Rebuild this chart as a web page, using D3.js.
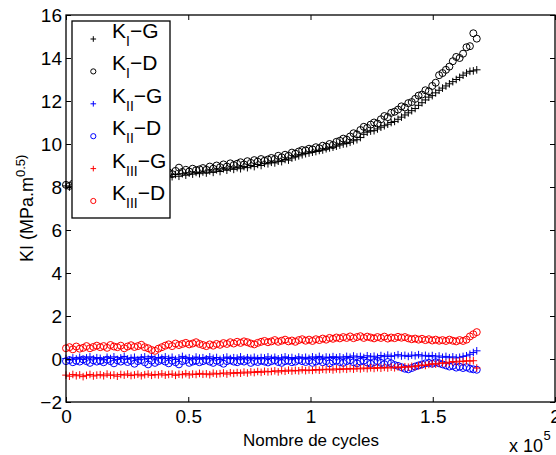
<!DOCTYPE html>
<html><head><meta charset="utf-8">
<script src="https://cdn.jsdelivr.net/npm/d3@7"></script>
<style>html,body{margin:0;padding:0;background:#fff;}svg{display:block;}text{font-family:"Liberation Sans",Arial,Helvetica,sans-serif;}</style>
</head><body>
<svg id="chart" width="556" height="455"></svg>
<script>
const cycles = [0,1400,2800,4200,5600,7000,8400,9800,11200,12600,
14000,15400,16800,18200,19600,21000,22400,23800,25200,26600,
28000,29400,30800,32200,33600,35000,36400,37800,39200,40600,
42000,43400,44800,46200,47600,49000,50400,51800,53200,54600,
56000,57400,58800,60200,61600,63000,64400,65800,67200,68600,
70000,71400,72800,74200,75600,77000,78400,79800,81200,82600,
84000,85400,86800,88200,89600,91000,92400,93800,95200,96600,
98000,99400,100800,102200,103600,105000,106400,107800,109200,110600,
112000,113400,114800,116200,117600,119000,120400,121800,123200,124600,
126000,127400,128800,130200,131600,133000,134400,135800,137200,138600,
140000,141400,142800,144200,145600,147000,148400,149800,151200,152600,
154000,155400,156800,158200,159600,161000,162400,163800,165200,166600,
168000];

const KI_G = [8.05,8.00,8.10,8.02,8.12,8.08,8.15,8.10,8.18,8.12,
8.20,8.15,8.22,8.18,8.28,8.22,8.30,8.25,8.35,8.28,
8.35,8.30,8.40,8.32,8.45,8.38,8.48,8.42,8.50,8.45,
8.52,8.48,8.58,8.50,8.62,8.55,8.65,8.60,8.68,8.62,
8.70,8.65,8.75,8.68,8.80,8.72,8.85,8.78,8.88,8.82,
8.90,8.85,8.95,8.90,9.00,8.95,9.05,9.00,9.10,9.08,
9.15,9.12,9.20,9.18,9.28,9.25,9.35,9.40,9.45,9.50,
9.55,9.58,9.62,9.65,9.70,9.72,9.78,9.82,9.85,9.90,
9.95,10.00,10.02,10.08,10.15,10.20,10.30,10.45,10.55,10.60,
10.62,10.70,10.78,10.85,10.92,11.00,11.05,11.15,11.25,11.35,
11.45,11.55,11.65,11.80,11.92,12.05,12.18,12.25,12.38,12.50,
12.60,12.70,12.80,12.90,13.00,13.10,13.20,13.30,13.38,13.40,
13.45];

const KI_D = [8.10,8.05,8.15,8.12,8.20,8.15,8.25,8.18,8.28,8.22,
8.30,8.25,8.35,8.28,8.40,8.32,8.45,8.38,8.42,8.50,
8.45,8.55,8.40,8.60,8.52,8.65,8.48,8.70,8.58,8.62,
8.68,8.60,8.75,8.90,8.70,8.80,8.72,8.85,8.78,8.82,
8.88,8.80,8.95,8.85,9.00,8.92,9.05,8.95,9.10,9.02,
9.08,9.15,9.05,9.20,9.12,9.25,9.18,9.30,9.22,9.28,
9.35,9.30,9.45,9.38,9.50,9.45,9.60,9.55,9.65,9.72,
9.70,9.78,9.75,9.85,9.80,9.92,9.88,10.00,9.95,10.10,
10.15,10.25,10.20,10.35,10.50,10.45,10.65,10.80,10.75,10.90,
11.00,10.95,11.15,11.30,11.25,11.45,11.50,11.60,11.75,11.70,
11.90,11.95,12.10,12.25,12.30,12.50,12.45,12.70,12.85,13.20,
13.30,13.45,13.60,13.85,14.05,14.00,14.20,14.50,14.55,15.15,
14.90];

const KII_G = [0.02,-0.05,0.05,0.00,0.08,-0.02,0.05,0.10,0.00,0.06,
0.03,-0.04,0.08,0.02,0.10,-0.02,0.05,0.12,0.00,0.04,
0.08,-0.03,0.06,0.10,0.02,0.12,0.00,0.07,0.04,0.10,
0.02,0.08,-0.02,0.05,0.12,0.03,0.06,0.00,0.09,0.04,
0.06,0.01,0.10,0.03,0.07,-0.02,0.05,0.09,0.02,0.06,
0.04,0.10,0.00,0.06,0.03,0.08,0.02,0.07,0.05,0.10,
0.03,0.08,0.01,0.06,0.10,0.04,0.07,0.02,0.09,0.05,
0.08,0.03,0.10,0.06,0.12,0.04,0.09,0.07,0.11,0.06,
0.10,0.05,0.12,0.08,0.14,0.09,0.12,0.07,0.15,0.10,
0.13,0.08,0.16,0.11,0.18,0.12,0.15,0.20,0.14,0.17,
0.12,0.18,0.15,0.20,0.14,0.17,0.12,0.16,0.10,0.14,
0.08,0.12,0.06,0.10,0.05,0.08,0.12,0.15,0.22,0.30,
0.38];

const KII_D = [-0.10,-0.05,-0.15,-0.08,-0.12,-0.02,-0.10,-0.18,-0.06,-0.12,
-0.08,-0.15,-0.03,-0.10,-0.20,-0.06,-0.12,-0.04,-0.14,-0.08,
-0.22,-0.10,-0.05,-0.15,-0.25,-0.08,-0.18,-0.10,-0.04,-0.12,
-0.20,-0.08,-0.15,-0.25,-0.10,-0.05,-0.18,-0.12,-0.08,-0.15,
-0.10,-0.05,-0.12,-0.18,-0.08,-0.14,-0.22,-0.10,-0.06,-0.12,
-0.15,-0.08,-0.12,-0.05,-0.18,-0.10,-0.14,-0.08,-0.12,-0.16,
-0.10,-0.06,-0.14,-0.18,-0.10,-0.08,-0.15,-0.12,-0.05,-0.10,
-0.14,-0.08,-0.18,-0.12,-0.06,-0.15,-0.10,-0.20,-0.12,-0.08,
-0.14,-0.18,-0.10,-0.06,-0.15,-0.20,-0.12,-0.08,-0.16,-0.22,
-0.15,-0.10,-0.18,-0.24,-0.14,-0.20,-0.28,-0.32,-0.38,-0.45,
-0.48,-0.42,-0.35,-0.30,-0.25,-0.20,-0.18,-0.22,-0.15,-0.20,
-0.25,-0.30,-0.35,-0.32,-0.40,-0.36,-0.42,-0.38,-0.45,-0.48,
-0.50];

const KIII_G = [-0.75,-0.80,-0.72,-0.78,-0.74,-0.82,-0.76,-0.72,-0.79,-0.75,
-0.73,-0.78,-0.70,-0.76,-0.74,-0.80,-0.72,-0.75,-0.70,-0.77,
-0.74,-0.71,-0.78,-0.73,-0.70,-0.76,-0.72,-0.74,-0.69,-0.75,
-0.72,-0.70,-0.76,-0.71,-0.73,-0.68,-0.74,-0.70,-0.72,-0.67,
-0.71,-0.69,-0.73,-0.66,-0.70,-0.68,-0.65,-0.70,-0.64,-0.67,
-0.63,-0.66,-0.61,-0.65,-0.60,-0.63,-0.58,-0.62,-0.57,-0.60,
-0.58,-0.55,-0.60,-0.54,-0.57,-0.52,-0.56,-0.53,-0.55,-0.50,
-0.54,-0.51,-0.53,-0.49,-0.52,-0.48,-0.50,-0.47,-0.51,-0.46,
-0.49,-0.45,-0.48,-0.44,-0.47,-0.43,-0.46,-0.42,-0.45,-0.41,
-0.44,-0.40,-0.43,-0.39,-0.42,-0.38,-0.41,-0.37,-0.40,-0.36,
-0.38,-0.34,-0.36,-0.31,-0.28,-0.30,-0.25,-0.22,-0.24,-0.20,
-0.18,-0.20,-0.15,-0.12,-0.14,-0.10,-0.12,-0.08,-0.10,-0.08,
-0.42];

const KIII_D = [0.50,0.55,0.45,0.58,0.48,0.52,0.60,0.50,0.56,0.62,
0.55,0.60,0.52,0.65,0.58,0.55,0.62,0.50,0.58,0.64,
0.56,0.60,0.66,0.55,0.50,0.42,0.38,0.48,0.55,0.62,
0.68,0.60,0.72,0.65,0.70,0.75,0.68,0.72,0.78,0.70,
0.65,0.60,0.68,0.62,0.70,0.66,0.74,0.70,0.78,0.72,
0.80,0.75,0.82,0.78,0.72,0.68,0.75,0.80,0.84,0.78,
0.82,0.88,0.80,0.85,0.90,0.82,0.86,0.80,0.88,0.92,
0.85,0.90,0.84,0.92,0.88,0.95,0.90,0.98,0.94,1.00,
0.96,1.02,0.98,1.05,0.97,1.02,1.06,0.98,1.04,1.00,
0.96,1.02,0.98,1.04,0.95,1.00,0.97,1.03,0.99,1.02,
0.96,0.92,0.95,0.90,0.94,0.88,0.92,0.86,0.90,0.85,
0.88,0.84,0.90,0.85,0.82,0.88,0.84,0.90,1.05,1.15,
1.25];

const seriesNames = ["KI-G","KI-D","KII-G","KII-D","KIII-G","KIII-D"];
const legendSubs = ["I","I","II","II","III","III"];
const legendSuffix = ["\u2212G","\u2212D","\u2212G","\u2212D","\u2212G","\u2212D"];
const seriesValues = [KI_G, KI_D, KII_G, KII_D, KIII_G, KIII_D];
const seriesMarkers = ["plus","circle","plus","circle","plus","circle"];
const seriesColors = ["#000000","#000000","#0000ff","#0000ff","#ff0000","#ff0000"];
const xTicks = [0, 50000, 100000, 150000, 200000];
const xTickLabels = ["0","0.5","1","1.5","2"];
const yTicks = [-2,0,2,4,6,8,10,12,14,16];
const xTitle = "Nombre de cycles";

const svg = d3.select("#chart");
const L = 66, R = 555, T = 15, B = 402;
const x = d3.scaleLinear().domain([0, 200000]).range([L, R]);
const y = d3.scaleLinear().domain([-2, 16]).range([B, T]);

// data
const plot = svg.append("g");
seriesValues.forEach((vals, si) => {
  const g = plot.append("g");
  const pts = cycles.map((c, i) => [x(c), y(vals[i])]);
  if (seriesMarkers[si] === "circle") {
    g.selectAll("circle").data(pts).join("circle")
      .attr("cx", d => d[0]).attr("cy", d => d[1]).attr("r", 3.5)
      .attr("fill", "none").attr("stroke", seriesColors[si]).attr("stroke-width", 1);
  } else {
    const s = 3.8;
    g.selectAll("path").data(pts).join("path")
      .attr("d", d => `M${d[0]-s},${d[1]}H${d[0]+s}M${d[0]},${d[1]-s}V${d[1]+s}`)
      .attr("fill", "none").attr("stroke", seriesColors[si]).attr("stroke-width", 1);
  }
});

// axes (box with inward ticks)
const tickLen = 5;
const fontTick = 19;
svg.append("g").attr("transform", `translate(0,${B})`)
  .call(d3.axisBottom(x).tickValues(xTicks).tickSizeInner(-tickLen).tickSizeOuter(0).tickPadding(8)
    .tickFormat((d, i) => xTickLabels[i]))
  .call(g => { g.select(".domain").remove(); g.selectAll("text").attr("font-size", fontTick).attr("font-family", "Liberation Sans, Arial").attr("fill", "#000"); g.selectAll("line").attr("stroke", "#000"); });
svg.append("g").attr("transform", `translate(0,${T})`)
  .call(d3.axisTop(x).tickValues(xTicks).tickSizeInner(-tickLen).tickSizeOuter(0).tickFormat(""))
  .call(g => { g.select(".domain").remove(); g.selectAll("line").attr("stroke", "#000"); });
svg.append("g").attr("transform", `translate(${L},0)`)
  .call(d3.axisLeft(y).tickValues(yTicks).tickSizeInner(-tickLen).tickSizeOuter(0).tickPadding(4))
  .call(g => { g.select(".domain").remove(); g.selectAll("text").attr("font-size", fontTick).attr("font-family", "Liberation Sans, Arial").attr("fill", "#000"); g.selectAll("line").attr("stroke", "#000"); });
svg.append("g").attr("transform", `translate(${R},0)`)
  .call(d3.axisRight(y).tickValues(yTicks).tickSizeInner(-tickLen).tickSizeOuter(0).tickFormat(""))
  .call(g => { g.select(".domain").remove(); g.selectAll("line").attr("stroke", "#000"); });
svg.append("rect").attr("x", L).attr("y", T).attr("width", R - L).attr("height", B - T)
  .attr("fill", "none").attr("stroke", "#000").attr("stroke-width", 1.3);

// axis titles
svg.append("text").attr("x", 311).attr("y", 446).attr("text-anchor", "middle")
  .attr("font-size", 17).text(xTitle);
svg.append("text").attr("x", 543).attr("y", 452).attr("text-anchor", "end").attr("font-size", 18).text("x 10");
svg.append("text").attr("x", 543.5).attr("y", 440).attr("font-size", 13).text("5");

const yl = svg.append("text").attr("transform", "translate(33,262) rotate(-90)").attr("font-size", 18);
yl.append("tspan").text("KI (MPa.m");
yl.append("tspan").attr("dy", -8).attr("font-size", 13).text("0.5)");

// legend
const lg = svg.append("g");
lg.append("rect").attr("x", 72).attr("y", 21).attr("width", 98).attr("height", 197)
  .attr("fill", "#fff").attr("stroke", "#000").attr("stroke-width", 1.3);
const legY = d3.scalePoint().domain(seriesNames).range([39, 201]);
seriesNames.forEach((name, si) => {
  const cy = legY(name), cx = 93.3;
  if (seriesMarkers[si] === "circle") {
    lg.append("circle").attr("cx", cx).attr("cy", cy).attr("r", 2.6)
      .attr("fill", "none").attr("stroke", seriesColors[si]).attr("stroke-width", 1);
  } else {
    const s = 2.8;
    lg.append("path").attr("d", `M${cx-s},${cy}H${cx+s}M${cx},${cy-s}V${cy+s}`)
      .attr("stroke", seriesColors[si]).attr("stroke-width", 1);
  }
  const t = lg.append("text").attr("x", 112).attr("y", cy - 1).attr("font-size", 21);
  t.append("tspan").text("K");
  t.append("tspan").attr("dy", 8).attr("font-size", 14).text(legendSubs[si]);
  t.append("tspan").attr("dy", -8).text(legendSuffix[si]);
});
</script>
</body></html>
